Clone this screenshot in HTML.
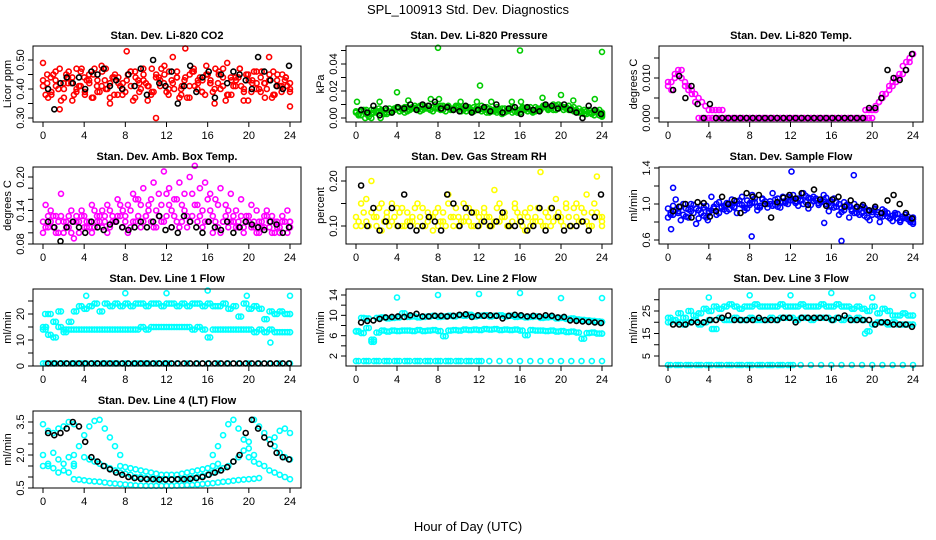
<!DOCTYPE html>
<html><head><meta charset="utf-8"><style>
html,body{margin:0;padding:0;background:#fff;}
svg{display:block;font-family:"Liberation Sans",sans-serif;}
</style></head><body>
<svg id="chart" width="936" height="540" viewBox="0 0 936 540">
<text x="468" y="14" font-size="13" text-anchor="middle">SPL_100913  Std. Dev. Diagnostics</text>
<text x="468" y="531" font-size="13" text-anchor="middle">Hour of Day (UTC)</text>
</svg>
<script>
const xTicks = [0,4,8,12,16,20,24];
const blackHours = [0.5,1.1,1.7,2.3,2.9,3.5,4.1,4.7,5.3,5.9,6.5,7.1,7.7,8.3,8.9,9.5,10.1,10.7,11.3,11.9,12.5,13.1,13.7,14.3,14.9,15.5,16.1,16.7,17.3,17.9,18.5,19.1,19.7,20.3,20.9,21.5,22.1,22.7,23.3,23.9];

const co2RedA = [0.49,0.42,0.38,0.46,0.33,0.40,0.44,0.36,0.47,0.41,0.39,0.45,0.37,0.43,0.48,0.40,0.35,0.44,0.42,0.38,0.53,0.41,0.46,0.39,0.43,0.36,0.47,0.30,0.41,0.45,0.38,0.51,0.44,0.40,0.54,0.37,0.46,0.42,0.39,0.48,0.43,0.35,0.45,0.41,0.49,0.38,0.44,0.47,0.40,0.36,0.43,0.46,0.39,0.42,0.51,0.38,0.45,0.41,0.44,0.34];
const co2RedB = [0.41,0.45,0.39,0.43,0.47,0.37,0.42,0.44,0.40,0.46,0.38,0.43,0.45,0.39,0.41,0.47,0.42,0.38,0.44,0.40,0.43,0.46,0.37,0.42,0.45,0.41,0.39,0.44,0.43,0.48,0.40,0.42,0.46,0.38,0.44,0.41,0.47,0.43,0.39,0.45,0.42,0.40,0.46,0.44,0.38,0.43,0.41,0.47,0.39,0.45,0.42,0.40,0.44,0.37,0.43,0.46,0.41,0.39,0.44,0.42];
const co2RedC = [0.38,0.44,0.41,0.36,0.45,0.42,0.39,0.47,0.43,0.37,0.41,0.46,0.40,0.44,0.38,0.42,0.45,0.36,0.43,0.47,0.41,0.39,0.44,0.42,0.46,0.40,0.37,0.43,0.45,0.41,0.44,0.38,0.42,0.47,0.40,0.36,0.44,0.43,0.41,0.45,0.39,0.42,0.46,0.40,0.37,0.43,0.45,0.41,0.39];
const co2RedD = [0.43,0.37,0.45,0.40,0.42,0.46,0.38,0.41,0.44,0.42,0.47,0.39,0.43,0.37,0.45,0.41,0.39,0.46,0.44,0.40,0.42,0.38,0.45,0.47,0.39,0.43,0.44,0.41,0.37,0.46,0.40,0.43,0.45,0.39,0.42,0.47,0.38,0.41,0.44,0.36,0.43,0.46,0.40,0.42,0.45,0.38,0.41,0.43,0.40];
const co2Black = [0.40,0.33,0.42,0.44,0.42,0.44,0.40,0.46,0.45,0.47,0.41,0.43,0.40,0.45,0.41,0.47,0.38,0.50,0.42,0.41,0.46,0.35,0.41,0.48,0.39,0.44,0.46,0.37,0.45,0.42,0.46,0.45,0.43,0.40,0.51,0.46,0.43,0.41,0.40,0.48];

const presGreenA = [0.004,0.005,0.003,0.006,0.004,0.005,0.006,0.004,0.007,0.006,0.008,0.007,0.008,0.006,0.009,0.008,0.007,0.009,0.008,0.007,0.008,0.006,0.007,0.008,0.007,0.006,0.007,0.005,0.006,0.007,0.006,0.005,0.006,0.007,0.006,0.008,0.007,0.009,0.008,0.009,0.008,0.007,0.006,0.005,0.004,0.005,0.003,0.004,0.003];
const presGreenB = [0.002,0.006,0.001,0.004,0.007,0.003,0.004,0.007,0.005,0.004,0.006,0.009,0.005,0.007,0.006,0.010,0.006,0.005,0.007,0.009,0.005,0.008,0.005,0.006,0.009,0.004,0.005,0.008,0.003,0.005,0.008,0.004,0.007,0.005,0.004,0.006,0.009,0.007,0.006,0.010,0.006,0.009,0.005,0.007,0.003,0.006,0.002,0.006,0.001];
const presGreenC = [0.003,0.005,0.004,0.006,0.005,0.004,0.007,0.006,0.005,0.008,0.006,0.007,0.009,0.008,0.006,0.007,0.009,0.008,0.006,0.008,0.007,0.005,0.006,0.007,0.005,0.008,0.006,0.004,0.007,0.006,0.004,0.006,0.008,0.007,0.005,0.007,0.008,0.006,0.010,0.007,0.008,0.006,0.008,0.004,0.006,0.004,0.005,0.002,0.004];
const presGreenD = [0.005,0.002,0.006,0.003,0.005,0.006,0.003,0.005,0.008,0.007,0.005,0.008,0.006,0.009,0.007,0.005,0.008,0.006,0.009,0.006,0.009,0.007,0.008,0.005,0.006,0.007,0.004,0.006,0.005,0.004,0.007,0.005,0.004,0.006,0.008,0.005,0.006,0.008,0.007,0.006,0.009,0.008,0.007,0.006,0.005,0.003,0.004,0.005,0.002];
const presOutHours = [0.1,2.3,4.0,5.1,7.3,8.0,8.1,10.2,11.8,12.1,13.2,15.2,16.0,16.1,18.2,20.0,21.2,23.3,24.0,0.9,2.4,1.5];
const presOutValues = [0.012,0.012,0.019,0.013,0.014,0.052,0.014,0.012,0.012,0.024,0.012,0.012,0.050,0.012,0.015,0.017,0.013,0.014,0.049,0.0,0.0,0.0];
const presBlack = [0.006,0.004,0.009,0.002,0.007,0.004,0.008,0.007,0.010,0.006,0.010,0.009,0.012,0.007,0.008,0.006,0.005,0.009,0.004,0.006,0.008,0.005,0.010,0.004,0.007,0.008,0.003,0.008,0.006,0.005,0.010,0.009,0.007,0.010,0.006,0.004,0.000,0.009,0.006,0.003];

const tempMagA = [0.008,0.009,0.011,0.012,0.010,0.009,0.008,0.007,0.006,0.005,0.004,0.003,0.002,0.002,0.002,0.002,0.002,0,0,0,0,0,0,0,0,0,0,0,0,0,0,0,0,0,0,0,0,0,0,0,0,0,0,0,0,0,0,0,0,0,0,0,0,0,0,0,0,0,0.002,0.002,0.002,0.003,0.004,0.005,0.006,0.007,0.008,0.009,0.010,0.011,0.012,0.014,0.016];
const tempMagB = [0.009,0.007,0.010,0.011,0.012,0.008,0.007,0.006,0.004,0,0,0,0,0,0,0,0,0,0,0,0,0,0,0,0,0,0,0,0,0,0,0,0,0,0,0,0,0,0,0,0,0,0,0,0,0,0,0,0,0,0,0,0,0,0,0,0,0,0,0,0,0.002,0.004,0.006,0.006,0.008,0.009,0.010,0.011,0.013,0.014,0.015,0.016];
const tempBlack = [0.007,0.0105,0.005,0.008,0.0035,0,0.0035,0,0,0,0,0,0,0,0,0,0,0,0,0,0,0,0,0,0,0,0,0,0,0,0,0,0.0025,0.0025,0.005,0.012,0.010,0.0095,0.012,0.016];

const ambMagLow = [0.12,0.11,0.13,0.10,0.12,0.11,0.12,0.10,0.11,0.12,0.11,0.13,0.12,0.11,0.12,0.13,0.12,0.11,0.12,0.11,0.13,0.12,0.11,0.12,0.13,0.11,0.12,0.12,0.11,0.13,0.12,0.11,0.12,0.10,0.11,0.12,0.11,0.12,0.11,0.10,0.12,0.11,0.12,0.11,0.12,0.10,0.11,0.12,0.11];
const ambMagHigh = [0.15,0.14,0.13,0.17,0.12,0.14,0.13,0.14,0.12,0.15,0.13,0.14,0.15,0.13,0.16,0.14,0.15,0.17,0.16,0.18,0.15,0.19,0.17,0.21,0.18,0.16,0.19,0.17,0.20,0.22,0.18,0.19,0.17,0.16,0.18,0.15,0.17,0.14,0.16,0.13,0.15,0.14,0.12,0.14,0.13,0.12,0.13,0.14,0.12];
const ambMagMid = [0.10,0.13,0.11,0.12,0.10,0.13,0.09,0.12,0.13,0.11,0.14,0.12,0.13,0.14,0.12,0.15,0.13,0.14,0.16,0.15,0.13,0.16,0.14,0.15,0.17,0.14,0.16,0.15,0.13,0.17,0.15,0.14,0.16,0.13,0.15,0.12,0.14,0.13,0.12,0.11,0.13,0.12,0.10,0.13,0.11,0.12,0.10,0.12,0.11];
const ambMagD = [0.11,0.12,0.10,0.13,0.11,0.10,0.12,0.13,0.11,0.10,0.12,0.11,0.10,0.12,0.13,0.11,0.10,0.12,0.13,0.12,0.14,0.11,0.13,0.12,0.15,0.13,0.11,0.14,0.12,0.15,0.13,0.12,0.14,0.12,0.10,0.13,0.12,0.11,0.13,0.12,0.11,0.10,0.11,0.13,0.10,0.11,0.12,0.10,0.12];
const ambBlack = [0.12,0.11,0.085,0.11,0.12,0.11,0.10,0.12,0.11,0.105,0.115,0.12,0.11,0.105,0.11,0.12,0.11,0.12,0.13,0.105,0.11,0.10,0.13,0.12,0.11,0.10,0.12,0.11,0.105,0.12,0.10,0.11,0.12,0.115,0.11,0.105,0.12,0.115,0.10,0.11];

const rhYellowA = [0.10,0.15,0.11,0.20,0.12,0.09,0.13,0.15,0.10,0.14,0.11,0.12,0.15,0.10,0.13,0.09,0.14,0.11,0.17,0.12,0.10,0.15,0.11,0.13,0.10,0.14,0.12,0.18,0.11,0.13,0.10,0.15,0.12,0.09,0.14,0.11,0.22,0.13,0.10,0.16,0.12,0.14,0.10,0.15,0.11,0.17,0.13,0.21,0.11];
const rhYellowB = [0.11,0.13,0.10,0.12,0.14,0.11,0.10,0.12,0.13,0.10,0.11,0.14,0.12,0.10,0.12,0.13,0.11,0.10,0.12,0.14,0.11,0.12,0.10,0.13,0.11,0.12,0.10,0.14,0.12,0.10,0.11,0.13,0.10,0.12,0.11,0.14,0.10,0.12,0.11,0.13,0.10,0.12,0.14,0.11,0.13,0.10,0.15,0.12,0.10];
const rhYellowC = [0.12,0.10,0.16,0.13,0.10,0.15,0.12,0.11,0.14,0.10,0.13,0.11,0.10,0.14,0.11,0.12,0.10,0.13,0.15,0.10,0.12,0.11,0.14,0.10,0.12,0.13,0.10,0.11,0.15,0.12,0.10,0.14,0.11,0.13,0.10,0.12,0.11,0.10,0.14,0.12,0.11,0.15,0.10,0.12,0.14,0.11,0.10,0.13,0.12];
const rhBlack = [0.19,0.10,0.14,0.09,0.11,0.14,0.10,0.17,0.10,0.09,0.10,0.12,0.11,0.09,0.17,0.15,0.10,0.14,0.13,0.10,0.11,0.10,0.11,0.13,0.10,0.10,0.11,0.09,0.10,0.14,0.09,0.14,0.12,0.09,0.10,0.10,0.11,0.09,0.12,0.17];

const flowBlueA = [0.95,0.88,0.92,1.00,0.85,0.90,0.93,0.87,0.92,0.95,0.90,0.98,0.94,0.97,1.00,0.96,0.99,1.02,0.98,1.00,1.03,0.99,1.02,1.01,1.04,1.03,1.05,1.02,1.06,1.04,1.02,1.00,1.03,0.97,0.95,0.98,0.92,0.95,0.90,0.93,0.88,0.91,0.86,0.90,0.87,0.84,0.86,0.83,0.85];
const flowBlueB = [0.90,1.05,0.82,0.95,1.00,0.78,0.98,0.85,1.08,0.88,0.97,0.92,1.05,0.90,1.08,0.95,1.10,0.93,1.06,0.96,1.12,0.97,1.08,1.00,1.10,0.98,1.12,0.95,1.08,1.01,1.10,0.92,1.06,0.88,1.02,0.85,1.00,0.88,0.96,0.82,0.94,0.80,0.92,0.84,0.90,0.80,0.88,0.82,0.78];
const flowBlueC = [0.88,0.93,0.97,0.86,0.92,0.95,0.90,0.98,0.93,1.00,0.96,1.01,0.98,1.03,0.99,1.04,1.01,0.97,1.05,1.00,0.98,1.06,1.02,1.08,1.04,1.06,1.00,1.07,1.03,0.99,1.05,1.01,0.96,1.00,0.93,0.97,0.90,0.94,0.87,0.92,0.95,0.86,0.89,0.84,0.88,0.82,0.85,0.80,0.83];
const flowBlueD = [0.85,0.98,0.90,0.88,0.94,0.99,0.84,0.96,0.90,0.97,1.02,0.94,1.00,0.96,1.04,0.93,1.01,1.06,0.96,1.03,1.00,1.05,0.96,1.03,1.07,1.01,1.04,1.09,0.99,1.06,1.03,1.07,0.98,1.02,0.91,0.99,0.94,0.90,0.97,0.85,0.91,0.88,0.94,0.86,0.81,0.89,0.84,0.86,0.80];
const flowOutHours = [0.3,0.5,12.1,18.2,8.2,17.0,15.3,3.9];
const flowOutValues = [0.72,1.18,1.36,1.32,0.64,0.59,0.79,0.82];
const flowBlack = [0.92,0.97,1.00,0.85,1.02,1.01,0.86,0.92,1.08,1.00,1.04,0.90,1.12,1.08,1.10,1.00,0.85,1.02,1.07,1.10,1.06,1.12,0.99,1.16,1.05,0.98,1.05,1.08,0.97,1.04,0.97,0.99,0.93,0.97,0.90,1.04,1.10,1.00,0.90,0.84];

const l1Upper = [15,20,17,21,13,17,21,23,22,23,24,21,24,23,24,23,24,23,24,24,23,24,24,23,24,24,23,24,23,24,24,23,24,23,23,24,22,23,19,24,22,23,22,18,21,20,21,20,20];
const l1Middle = [14,12,11,15,14,14,14,14,14,14,14,14,14,14,14,14,14,14,14,15,14,15,15,15,15,15,15,15,15,14,15,14,11,14,14,14,14,14,14,14,14,13,14,13,14,13,13,13,13];
const l1Bottom = [1,1,1,1,1,1,1,1,1,1,1,1,1,1,1,1,1,1,1,1,1,1,1,1,1];
const l1OutHours = [4.2,8.0,12.0,16.0,19.8,24,22.1,0.2,0.3];
const l1OutValues = [27,28,28,29,27,27,9,20,15];
const l1Black = [1,1,1,1,1,1,1,1,1,1,1,1,1,1,1,1,1,1,1,1,1,1,1,1,1,1,1,1,1,1,1,1,1,1,1,1,1,1,1,1];

const l2Upper = [6.8,9.5,9.4,5.2,9.5,9.6,9.4,9.5,9.6,10.4,9.7,9.8,9.6,9.7,9.8,9.9,9.7,9.8,9.9,9.8,10.0,9.9,10.1,9.8,9.9,10.0,9.8,9.9,10.0,9.8,9.9,9.7,9.8,9.6,9.7,9.8,9.5,9.6,9.7,9.4,9.5,9.3,9.4,9.2,9.1,9.0,8.9,8.8,8.7];
const l2Middle = [6.9,6.5,7.5,4.8,6.6,7.0,6.8,7.0,6.9,7.0,7.0,6.9,7.1,6.9,7.0,7.1,6.9,5.9,7.0,7.1,7.0,7.2,7.1,7.2,7.1,7.3,7.2,7.3,7.1,7.2,7.1,7.2,7.0,6.1,7.1,7.0,7.0,6.9,7.0,6.8,6.9,6.7,6.8,6.6,5.4,6.5,6.6,6.4,6.4];
const l2Bottom = [1,1,1,1,1,1,1,1,1,1,1,1,1,1,1,1,1,1,1,1,1,1,1,1,1];
const l2OutHours = [4.0,8.0,12.0,16.0,20.0,24.0];
const l2OutValues = [13.5,14,14.2,14.4,13.4,13.4];
const l2Black = [8.6,8.9,9.0,9.3,9.6,9.7,9.8,9.7,10.0,10.3,9.8,9.8,9.9,9.9,9.8,9.9,10.1,10.2,9.7,10.0,9.9,10.0,9.9,9.4,9.9,10.1,10.0,9.8,9.9,9.8,10.0,9.9,9.6,9.7,9.0,8.9,8.8,8.7,8.6,8.5];

const l3Upper = [22,21,24,22,25,23,24,26,25,27,26,27,28,27,26,27,27,28,27,27,27,27,28,27,27,27,28,27,27,27,28,27,27,28,27,27,26,27,26,25,27,24,26,25,23,23,24,23,23];
const l3Middle = [20,21,20,19,20,21,19,20,21,17,22,21,21,22,21,21,22,21,21,21,22,21,22,22,22,21,22,22,21,22,22,22,21,22,21,22,21,22,21,16,19,20,20,19,20,19,19,19,19];
const l3Bottom = [1,1,1,1,1,1,1,1,1,1,1,1,1,1,1,1,1,1,1,1,1,1,1,1,1];
const l3OutHours = [4.0,8.0,12.0,16.0,20.0,24.0,4.3,19.3];
const l3OutValues = [31,32,32,33,31,32,17,15];
const l3Black = [19,19,19,20,20,20,21,21,22,23,21,21,21,21,22,21,21,21,22,22,20,22,22,22,22,22,21,22,23,21,21,21,21,19,20,20,19,19,19,18];

const l4BottomHours = [3,3.5,4,4.5,5,5.5,6,6.5,7,7.5,8,8.5,9,9.5,10,10.5,11,11.5,12,12.5,13,13.5,14,14.5,15,15.5,16,16.5,17,17.5,18,18.5,19,19.5,20,20.5,21];
const l4Bottom = [0.90,0.88,0.85,0.82,0.80,0.78,0.75,0.72,0.70,0.68,0.66,0.64,0.62,0.61,0.60,0.60,0.60,0.60,0.60,0.60,0.61,0.62,0.63,0.64,0.66,0.68,0.70,0.72,0.75,0.78,0.80,0.83,0.86,0.88,0.90,0.92,0.95];
const l4LateHours = [20,20.5,21,21.5,22,22.5,23,23.5,24];
const l4Late = [1.9,1.7,1.6,1.5,1.3,1.2,1.1,1.0,0.9];
const l4MidHours = [4,4.5,5,5.5,6,6.5,7,7.5,8,8.5,9,9.5,10,10.5,11,11.5,12,12.5,13,13.5,14,14.5,15,15.5,16,16.5,17,17.5,18,18.5,19,19.5,20];
const l4Mid = [1.9,1.8,1.7,1.6,1.5,1.4,1.3,1.2,1.15,1.1,1.0,1.0,0.95,0.92,0.9,0.9,0.9,0.9,0.9,0.9,0.92,0.95,1.0,1.05,1.1,1.2,1.3,1.4,1.5,1.7,1.9,2.2,2.6];
const l4U2Hours = [7.5,8,8.5,9,9.5,10,10.5,11,11.5,12,12.5,13,13.5,14,14.5,15,15.5,16,16.5,17];
const l4U2 = [1.5,1.45,1.4,1.35,1.3,1.25,1.2,1.15,1.1,1.1,1.1,1.1,1.15,1.2,1.25,1.3,1.35,1.4,1.5,1.6];
const l4Peak1Hours = [3,3.5,4,4.5,5,5.5,6,6.5,7,7.5];
const l4Peak1 = [2.0,2.4,2.9,3.3,3.55,3.6,3.2,2.8,2.4,2.0];
const l4Peak2Hours = [16.5,17,17.5,18,18.5,19,19.5,20,20.5];
const l4Peak2 = [2.0,2.4,2.9,3.4,3.6,3.2,2.7,2.3,2.0];
const l4HighHours = [20.5,21,21.5,22,22.5,23,23.5,24,22.5,23,23.5,24];
const l4High = [3.6,3.3,3.0,2.7,2.4,2.1,1.9,1.8,2.8,3.1,3.2,3.0];
const l4EarlyHours = [0,0.5,1,1.5,2,2.5,3];
const l4EarlyA = [3.4,3.1,3.0,3.2,3.3,3.5,3.4];
const l4EarlyB = [2.0,1.6,2.1,1.8,1.6,1.9,1.5];
const l4EarlyC = [1.5,1.5,1.4,1.2,1.3,1.2,1.6];
const l4Black = [3.0,2.9,3.0,3.2,3.5,3.3,2.6,1.9,1.7,1.5,1.35,1.2,1.1,1.0,0.95,0.92,0.9,0.9,0.88,0.88,0.88,0.9,0.9,0.92,0.95,1.0,1.1,1.2,1.3,1.45,1.7,2.0,3.0,3.6,3.2,2.8,2.5,2.1,1.9,1.8];

const NS = "http://www.w3.org/2000/svg";
const svg = document.getElementById('chart');
function el(tag, attrs, parent){ const e=document.createElementNS(NS,tag); for(const k in attrs) e.setAttribute(k,attrs[k]); (parent||svg).appendChild(e); return e; }
function grid(n, off){ const h=[]; for(let i=0;i<n;i++) h.push(Math.min(24, 24*i/(n-1) + (off||0))); return h; }

const cols = [{x0:43,x24:290,L:33,R:301},{x0:356,x24:602,L:346,R:612},{x0:668,x24:913,L:659,R:923}];
const rows = [{T:46,B:122},{T:167,B:244},{T:289,B:366},{T:411,B:488}];

function panel(p){
  const c=cols[p.col], r=rows[p.row];
  const g=el('g',{});
  
  
  const sx = h => c.x0 + (c.x24-c.x0)*h/24;
  const sy = v => p.y1[1] + (p.y2[1]-p.y1[1])*(v-p.y1[0])/(p.y2[0]-p.y1[0]);
  const marks=el('g',{},g);
  
  
  p.series.forEach(s=>{
    s.v.forEach((v,i)=>{
      const y=sy(v);
      if(y<r.T-2||y>r.B+2) return;
      const m=el('circle',{cx:sx(s.h[i]).toFixed(1),cy:y.toFixed(1),r:2.5,fill:'none',stroke:s.c,'stroke-width':1.6},marks);
      
      
    });
  });
  const box=el('rect',{x:c.L,y:r.T,width:c.R-c.L,height:r.B-r.T,fill:'none',stroke:'#000','stroke-width':1},g);
  
  
  const t=el('text',{x:(c.L+c.R)/2,y:r.T-7,'font-size':11,'font-weight':'bold','text-anchor':'middle'},g);
  t.textContent=p.title;
  
  
  el('line',{x1:sx(0),x2:sx(24),y1:r.B,y2:r.B,stroke:'#000'},g);
  xTicks.forEach(h=>{
    el('line',{x1:sx(h),x2:sx(h),y1:r.B,y2:r.B+5,stroke:'#000'},g);
    const tl=el('text',{x:sx(h),y:r.B+17,'font-size':11,'text-anchor':'middle'},g);
    tl.textContent=h;
    
    
  });
  const yt=p.yticks;
  el('line',{x1:c.L,x2:c.L,y1:sy(yt[0]),y2:sy(yt[yt.length-1]),stroke:'#000'},g);
  yt.forEach(v=>{ el('line',{x1:c.L-5,x2:c.L,y1:sy(v),y2:sy(v),stroke:'#000'},g); });
  p.ylabels.forEach((lab,i)=>{
    const y=sy(p.ylabelVals[i]);
    const tl=el('text',{x:c.L-9,y:y,'font-size':11,'text-anchor':'middle',transform:`rotate(-90 ${c.L-9} ${y})`},g);
    tl.textContent=lab;
    
    
  });
  const ya=el('text',{x:c.L-22,y:(r.T+r.B)/2,'font-size':11,'text-anchor':'middle',transform:`rotate(-90 ${c.L-22} ${(r.T+r.B)/2})`},g);
  ya.textContent=p.ytitle;
  
  
}

const g60=grid(60), g49=grid(49), g49o=grid(49,0.25), g25=grid(25), g73=grid(73);
panel({name:'co2-panel',col:0,row:0,title:'Stan. Dev. Li-820 CO2',ytitle:'Licor ppm',y1:[0.30,118],y2:[0.50,60],
  yticks:[0.30,0.35,0.40,0.45,0.50],ylabels:['0.30','0.40','0.50'],ylabelVals:[0.30,0.40,0.50],
  series:[{h:g60,v:co2RedA,c:'#ff0000'},{h:g60,v:co2RedB,c:'#ff0000'},{h:g49o,v:co2RedC,c:'#ff0000'},{h:g49,v:co2RedD,c:'#ff0000'},{h:blackHours,v:co2Black,c:'#000'}]});
panel({name:'pressure-panel',col:1,row:0,title:'Stan. Dev. Li-820 Pressure',ytitle:'kPa',y1:[0,118],y2:[0.04,64],
  yticks:[0,0.01,0.02,0.03,0.04,0.05],ylabels:['0.00','0.02','0.04'],ylabelVals:[0,0.02,0.04],
  series:[{h:g49,v:presGreenA,c:'#00cc00'},{h:g49o,v:presGreenB,c:'#00cc00'},{h:g49o,v:presGreenC,c:'#00cc00'},{h:g49,v:presGreenD,c:'#00cc00'},{h:presOutHours,v:presOutValues,c:'#00cc00'},{h:blackHours,v:presBlack,c:'#000'}]});
panel({name:'temp-panel',col:2,row:0,title:'Stan. Dev. Li-820 Temp.',ytitle:'degrees C',y1:[0,118],y2:[0.010,78],
  yticks:[0,0.005,0.010,0.015],ylabels:['0.000','0.010'],ylabelVals:[0,0.010],
  series:[{h:g73,v:tempMagA,c:'#ff00ff'},{h:g73,v:tempMagB,c:'#ff00ff'},{h:blackHours,v:tempBlack,c:'#000'}]});
panel({name:'amb-box-panel',col:0,row:1,title:'Stan. Dev. Amb. Box Temp.',ytitle:'degrees C',y1:[0.08,244],y2:[0.20,177],
  yticks:[0.08,0.10,0.12,0.14,0.16,0.18,0.20],ylabels:['0.08','0.14','0.20'],ylabelVals:[0.08,0.14,0.20],
  series:[{h:g49,v:ambMagLow,c:'#ff00ff'},{h:g49o,v:ambMagHigh,c:'#ff00ff'},{h:g49,v:ambMagMid,c:'#ff00ff'},{h:g49o,v:ambMagD,c:'#ff00ff'},{h:blackHours,v:ambBlack,c:'#000'}]});
panel({name:'rh-panel',col:1,row:1,title:'Stan. Dev. Gas Stream RH',ytitle:'percent',y1:[0.10,226],y2:[0.20,181],
  yticks:[0.10,0.15,0.20],ylabels:['0.10','0.20'],ylabelVals:[0.10,0.20],
  series:[{h:g49,v:rhYellowA,c:'#ffff00'},{h:g49o,v:rhYellowB,c:'#ffff00'},{h:g49,v:rhYellowC,c:'#ffff00'},{h:blackHours,v:rhBlack,c:'#000'}]});
panel({name:'sample-flow-panel',col:2,row:1,title:'Stan. Dev. Sample Flow',ytitle:'ml/min',y1:[0.6,240],y2:[1.4,168],
  yticks:[0.6,0.8,1.0,1.2,1.4],ylabels:['0.6','1.0','1.4'],ylabelVals:[0.6,1.0,1.4],
  series:[{h:g49,v:flowBlueA,c:'#0000ff'},{h:g49o,v:flowBlueB,c:'#0000ff'},{h:g49o,v:flowBlueC,c:'#0000ff'},{h:g49,v:flowBlueD,c:'#0000ff'},{h:flowOutHours,v:flowOutValues,c:'#0000ff'},{h:blackHours,v:flowBlack,c:'#000'}]});
panel({name:'line1-panel',col:0,row:2,title:'Stan. Dev. Line 1 Flow',ytitle:'ml/min',y1:[0,366],y2:[20,314],
  yticks:[0,5,10,15,20,25],ylabels:['0','10','20'],ylabelVals:[0,10,20],
  series:[{h:g49,v:l1Upper,c:'#00ffff'},{h:g49o,v:l1Upper,c:'#00ffff'},{h:g49,v:l1Middle,c:'#00ffff'},{h:g49o,v:l1Middle,c:'#00ffff'},{h:g25,v:l1Bottom,c:'#00ffff'},{h:g49o,v:l1Bottom,c:'#00ffff'},{h:l1OutHours,v:l1OutValues,c:'#00ffff'},{h:blackHours,v:l1Black,c:'#000'}]});
panel({name:'line2-panel',col:1,row:2,title:'Stan. Dev. Line 2 Flow',ytitle:'ml/min',y1:[2,356],y2:[14,295],
  yticks:[2,4,6,8,10,12,14],ylabels:['2','6','10','14'],ylabelVals:[2,6,10,14],
  series:[{h:g49,v:l2Upper,c:'#00ffff'},{h:g49o,v:l2Upper,c:'#00ffff'},{h:g49,v:l2Middle,c:'#00ffff'},{h:g49o,v:l2Middle,c:'#00ffff'},{h:g25,v:l2Bottom,c:'#00ffff'},{h:g49o,v:l2Bottom,c:'#00ffff'},{h:l2OutHours,v:l2OutValues,c:'#00ffff'},{h:blackHours,v:l2Black,c:'#000'}]});
panel({name:'line3-panel',col:2,row:2,title:'Stan. Dev. Line 3 Flow',ytitle:'ml/min',y1:[5,356],y2:[25,311],
  yticks:[5,10,15,20,25,30],ylabels:['5','15','25'],ylabelVals:[5,15,25],
  series:[{h:g49,v:l3Upper,c:'#00ffff'},{h:g49o,v:l3Upper,c:'#00ffff'},{h:g49,v:l3Middle,c:'#00ffff'},{h:g49o,v:l3Middle,c:'#00ffff'},{h:g25,v:l3Bottom,c:'#00ffff'},{h:g49o,v:l3Bottom,c:'#00ffff'},{h:l3OutHours,v:l3OutValues,c:'#00ffff'},{h:blackHours,v:l3Black,c:'#000'}]});
panel({name:'line4-panel',col:0,row:3,title:'Stan. Dev. Line 4 (LT) Flow',ytitle:'ml/min',y1:[0.5,488],y2:[3.5,422],
  yticks:[0.5,1.0,1.5,2.0,2.5,3.0,3.5],ylabels:['0.5','2.0','3.5'],ylabelVals:[0.5,2.0,3.5],
  series:[{h:l4BottomHours,v:l4Bottom,c:'#00ffff'},{h:l4LateHours,v:l4Late,c:'#00ffff'},{h:l4MidHours,v:l4Mid,c:'#00ffff'},{h:l4U2Hours,v:l4U2,c:'#00ffff'},
    {h:l4Peak1Hours,v:l4Peak1,c:'#00ffff'},{h:l4Peak2Hours,v:l4Peak2,c:'#00ffff'},{h:l4HighHours,v:l4High,c:'#00ffff'},
    {h:l4EarlyHours,v:l4EarlyA,c:'#00ffff'},{h:l4EarlyHours,v:l4EarlyB,c:'#00ffff'},{h:l4EarlyHours,v:l4EarlyC,c:'#00ffff'},{h:blackHours,v:l4Black,c:'#000'}]});
</script>
</body></html>
